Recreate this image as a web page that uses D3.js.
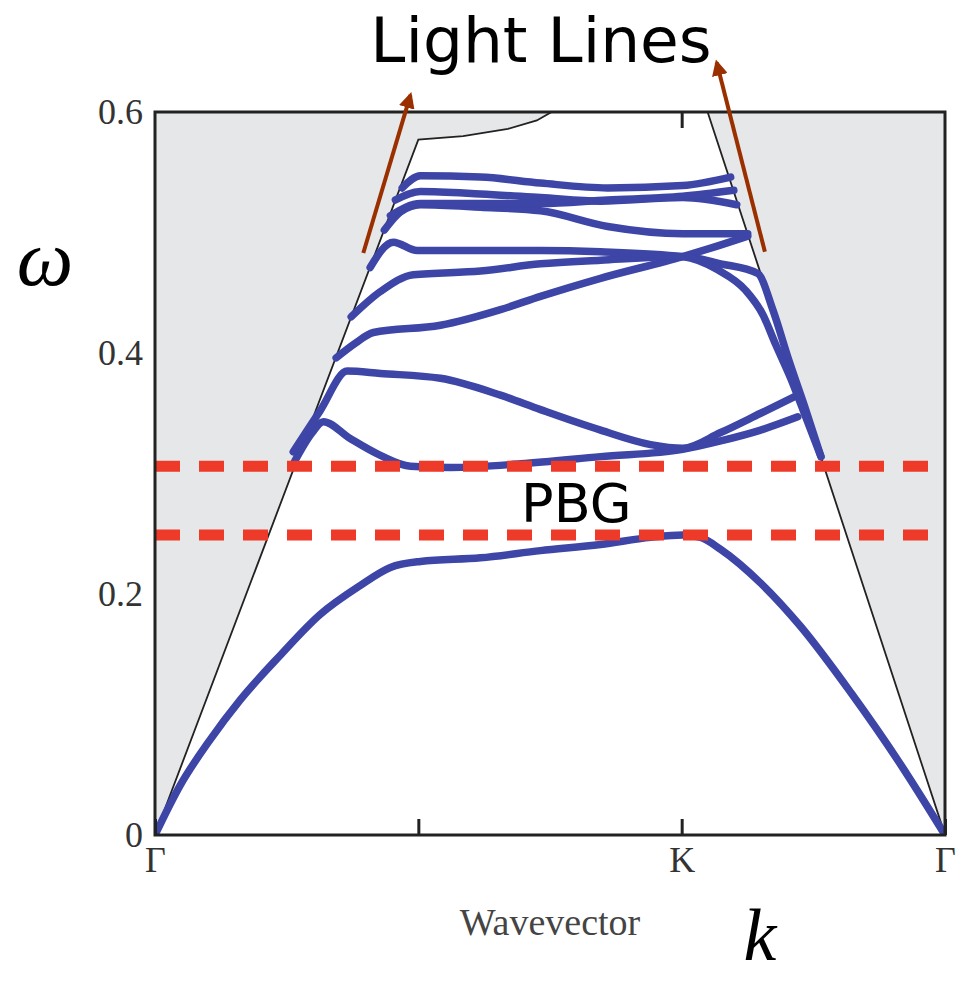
<!DOCTYPE html>
<html>
<head>
<meta charset="utf-8">
<script src="https://cdn.jsdelivr.net/npm/d3@7"></script>
<style>
  body { margin: 0; background: #fff; }
  svg { display: block; }
</style>
</head>
<body>
<div id="chart"></div>
<script>
// high symmetry points along the wavevector path
const kTicks = [0, 1, 2, 3];
const kLabels = ["Γ", "", "K", "Γ"];
const wTicks = [0, 0.2, 0.4, 0.6];
const wLabels = ["0", "0.2", "0.4", "0.6"];

// photonic band gap edges
const gapEdges = [0.249, 0.306];

// light cone boundary [k, omega]
const lightLine = [[0, 0], [1, 0.577], [1.17, 0.58], [1.34, 0.586], [1.45, 0.593], [1.53, 0.603], [2.094, 0.603], [3, 0]];

// bands [k, omega]
const band1 = [[0, 0], [0.095, 0.041], [0.209, 0.079], [0.323, 0.112], [0.475, 0.149], [0.627, 0.183], [0.779, 0.207], [0.894, 0.222], [1.008, 0.227], [1.236, 0.23], [1.464, 0.236], [1.692, 0.241], [1.882, 0.247], [2.004, 0.249], [2.072, 0.247], [2.148, 0.237], [2.3, 0.209], [2.452, 0.173], [2.643, 0.118], [2.833, 0.058], [3, 0]];
const band2 = [[0.53, 0.31], [0.597, 0.334], [0.639, 0.343], [0.741, 0.329], [0.856, 0.315], [0.97, 0.306], [1.122, 0.305], [1.388, 0.308], [1.692, 0.314], [2.004, 0.32], [2.148, 0.327], [2.3, 0.336], [2.441, 0.347]];
const band3 = [[0.525, 0.318], [0.627, 0.352], [0.73, 0.385], [0.856, 0.383], [1.084, 0.379], [1.312, 0.365], [1.464, 0.353], [1.692, 0.336], [1.882, 0.324], [2.004, 0.321], [2.148, 0.334], [2.3, 0.35], [2.441, 0.365]];
const band4 = [[0.688, 0.396], [0.76, 0.408], [0.829, 0.417], [1.084, 0.423], [1.312, 0.436], [1.464, 0.447], [1.692, 0.462], [2.004, 0.48], [2.11, 0.487], [2.251, 0.497]];
const band5 = [[0.745, 0.43], [0.856, 0.451], [0.981, 0.465], [1.236, 0.468], [1.464, 0.474], [1.692, 0.477], [2.004, 0.48], [2.148, 0.474], [2.289, 0.466], [2.346, 0.436], [2.407, 0.394], [2.471, 0.353], [2.529, 0.314]];
const band6 = [[0.817, 0.471], [0.905, 0.492], [0.996, 0.485], [1.236, 0.485], [1.464, 0.485], [1.692, 0.484], [2.004, 0.48], [2.137, 0.469], [2.243, 0.452], [2.308, 0.432], [2.357, 0.407], [2.414, 0.379], [2.464, 0.351], [2.529, 0.314]];
const band7 = [[0.871, 0.502], [0.932, 0.517], [1.008, 0.523], [1.236, 0.521], [1.464, 0.518], [1.719, 0.505], [2.004, 0.499], [2.251, 0.499]];
const band8 = [[0.913, 0.527], [1.008, 0.534], [1.236, 0.532], [1.464, 0.529], [1.692, 0.526], [2.004, 0.529], [2.209, 0.523]];
const band9 = [[0.939, 0.537], [1.008, 0.547], [1.236, 0.546], [1.464, 0.541], [1.719, 0.537], [2.004, 0.539], [2.186, 0.546]];
const band10 = [[0.894, 0.514], [1.008, 0.524], [1.236, 0.524], [1.464, 0.524], [1.719, 0.527], [2.004, 0.53], [2.198, 0.535]];
const bands = [band1, band2, band3, band4, band5, band6, band7, band8, band9, band10];

// annotation arrows [from, to]
const arrows = [[[0.791, 0.483], [0.97, 0.614]], [[2.316, 0.484], [2.133, 0.641]]];

const width = 957, height = 983;
const margin = { top: 112, right: 12, bottom: 148, left: 155 };
const iw = width - margin.left - margin.right;
const ih = height - margin.top - margin.bottom;

const svg = d3.select("#chart").append("svg")
  .attr("width", width)
  .attr("height", height);

const x = d3.scaleLinear().domain([0, 3]).range([0, iw]);
const y = d3.scaleLinear().domain([0, 0.6]).range([ih, 0]);

svg.append("defs").append("clipPath")
  .attr("id", "plot-clip")
  .append("rect")
  .attr("width", iw)
  .attr("height", ih);

svg.select("defs").append("marker")
  .attr("id", "head")
  .attr("viewBox", "0 0 10 10")
  .attr("refX", 8)
  .attr("refY", 5)
  .attr("markerWidth", 4)
  .attr("markerHeight", 4)
  .attr("orient", "auto")
  .append("path")
  .attr("d", "M0,0L10,5L0,10z")
  .attr("fill", "#9a3000");

const g = svg.append("g").attr("transform", `translate(${margin.left},${margin.top})`);
const plot = g.append("g").attr("clip-path", "url(#plot-clip)");

const line = d3.line()
  .x(d => x(d[0]))
  .y(d => y(d[1]));

// shaded region above the light line
const cone = [[0, 0.6]].concat(lightLine, [[3, 0.6]]);
plot.append("path")
  .attr("d", line(cone) + "Z")
  .attr("fill", "#e6e7e9");

plot.append("path")
  .attr("d", line(lightLine))
  .attr("fill", "none")
  .attr("stroke", "#222")
  .attr("stroke-width", 1.8);

// bands
const bandLine = d3.line()
  .x(d => x(d[0]))
  .y(d => y(d[1]))
  .curve(d3.curveMonotoneX);

plot.append("g")
  .selectAll("path")
  .data(bands)
  .join("path")
  .attr("d", bandLine)
  .attr("fill", "none")
  .attr("stroke", "#3d45a6")
  .attr("stroke-width", 7.5)
  .attr("stroke-linecap", "round")
  .attr("stroke-linejoin", "round");

// gap edges
g.append("g")
  .selectAll("line")
  .data(gapEdges)
  .join("line")
  .attr("x1", x(0))
  .attr("x2", x(3))
  .attr("y1", d => y(d))
  .attr("y2", d => y(d))
  .attr("stroke", "#ee3a28")
  .attr("stroke-width", 11)
  .attr("stroke-dasharray", "25,19");

// axes
const xAxis = g.append("g")
  .attr("transform", `translate(0,${ih})`)
  .call(d3.axisBottom(x).tickValues(kTicks).tickSize(-16).tickPadding(8)
    .tickFormat((d, i) => kLabels[i]));
g.append("g")
  .call(d3.axisTop(x).tickValues([2]).tickSize(-16).tickFormat(""));
const yAxis = g.append("g")
  .call(d3.axisLeft(y).tickValues(wTicks).tickSize(0).tickPadding(12)
    .tickFormat((d, i) => wLabels[i]));

g.selectAll(".domain").remove();
g.selectAll(".tick line").attr("stroke", "#222").attr("stroke-width", 3);
g.selectAll(".tick text")
  .attr("font-family", "Liberation Serif, DejaVu Serif, serif")
  .attr("font-size", 36)
  .attr("fill", "#333");
xAxis.selectAll(".tick text").attr("dy", "0.8em");

// frame
g.append("rect")
  .attr("width", iw)
  .attr("height", ih)
  .attr("fill", "none")
  .attr("stroke", "#222")
  .attr("stroke-width", 3);

// arrows
g.append("g")
  .selectAll("line")
  .data(arrows)
  .join("line")
  .attr("x1", d => x(d[0][0]))
  .attr("y1", d => y(d[0][1]))
  .attr("x2", d => x(d[1][0]))
  .attr("y2", d => y(d[1][1]))
  .attr("stroke", "#9a3000")
  .attr("stroke-width", 4)
  .attr("marker-end", "url(#head)");

// labels
svg.append("text")
  .attr("x", 541).attr("y", 62)
  .attr("text-anchor", "middle")
  .attr("font-family", "DejaVu Sans, sans-serif")
  .attr("font-size", 63)
  .text("Light Lines");

g.append("text")
  .attr("x", x(1.6)).attr("y", y(0.26))
  .attr("text-anchor", "middle")
  .attr("font-family", "DejaVu Sans, sans-serif")
  .attr("font-size", 54)
  .text("PBG");

svg.append("text")
  .attr("x", 550).attr("y", 935)
  .attr("text-anchor", "middle")
  .attr("font-family", "Liberation Serif, DejaVu Serif, serif")
  .attr("font-size", 38)
  .attr("fill", "#444")
  .text("Wavevector");

svg.append("text")
  .attr("x", 45).attr("y", 285)
  .attr("text-anchor", "middle")
  .attr("font-family", "Liberation Serif, DejaVu Serif, serif")
  .attr("font-style", "italic")
  .attr("font-size", 80)
  .text("ω");

svg.append("text")
  .attr("x", 760).attr("y", 960)
  .attr("text-anchor", "middle")
  .attr("font-family", "Liberation Serif, DejaVu Serif, serif")
  .attr("font-style", "italic")
  .attr("font-size", 74)
  .text("k");
</script>
</body>
</html>
